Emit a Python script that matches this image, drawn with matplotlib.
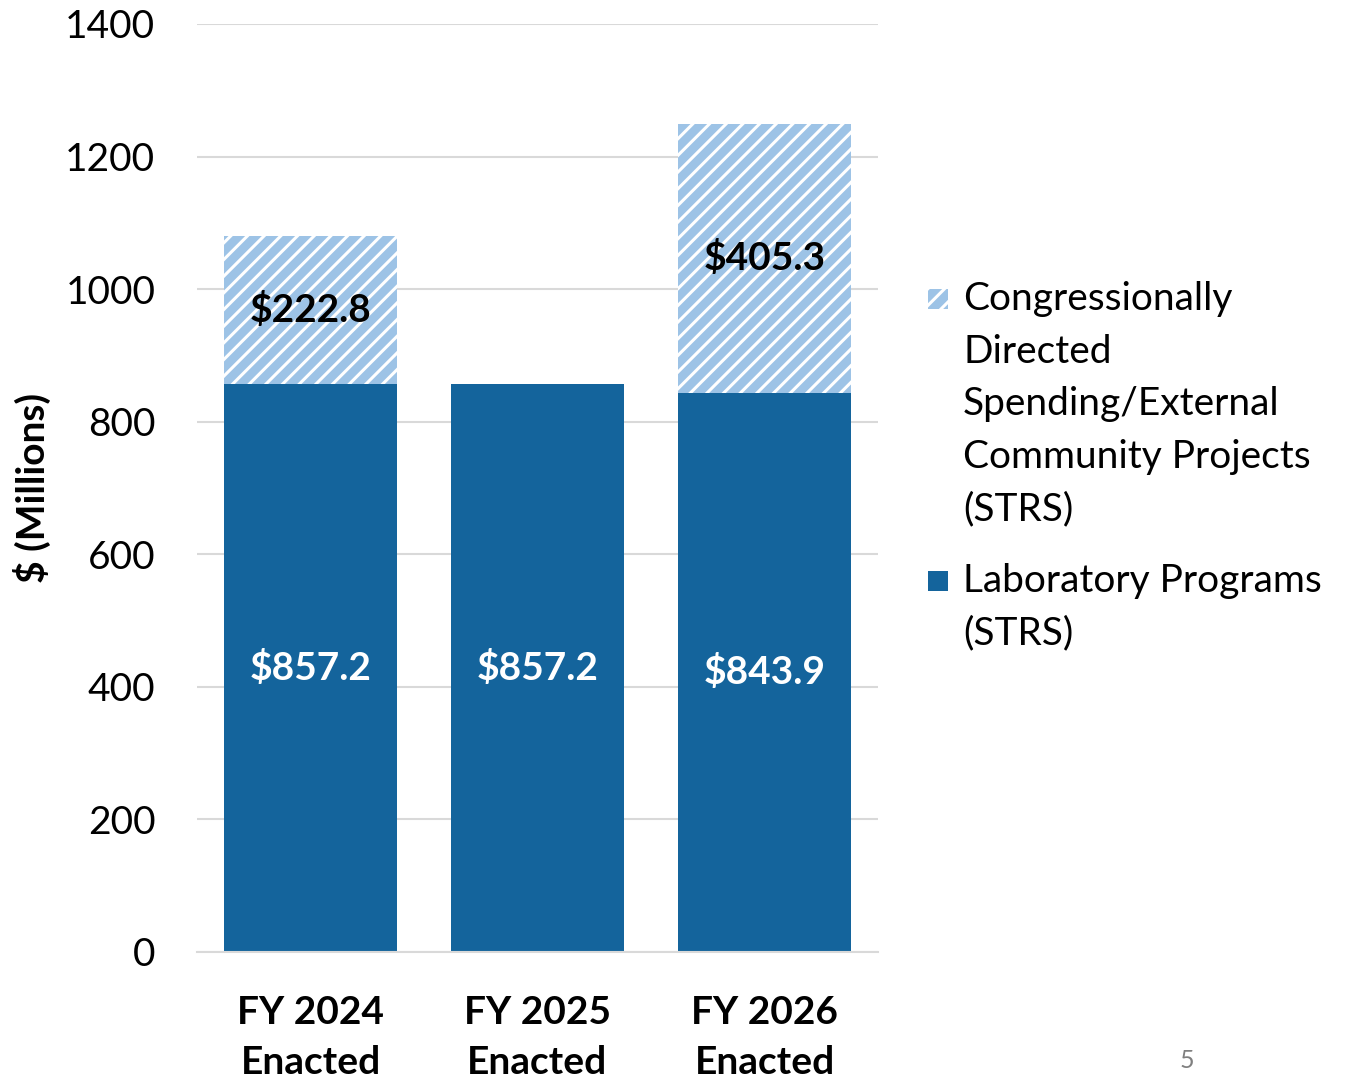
import numpy as np
import matplotlib
matplotlib.use("Agg")
import matplotlib.pyplot as plt
from matplotlib.patches import Rectangle

categories = ["FY 2024\nEnacted", "FY 2025\nEnacted", "FY 2026\nEnacted"]
lab_programs = [857.2, 857.2, 843.9]
cds_projects = [222.8, 0.0, 405.3]
yticks = [0, 200, 400, 600, 800, 1000, 1200, 1400]

DARK = "#14649C"
LIGHT = "#9DC3E6"
GRID = "#D9D9D9"
FS = 28

plt.rcParams["font.family"] = ["Lato", "DejaVu Sans"]
plt.rcParams["hatch.linewidth"] = 2.2

fig = plt.figure(figsize=(13.57, 10.79), dpi=100)
ax = fig.add_axes([197 / 1357, 127 / 1079, 681 / 1357, 928 / 1079])

x = np.arange(len(categories))
ax.bar(x, lab_programs, width=0.76, color=DARK, zorder=2)
ax.bar(x, cds_projects, width=0.76, bottom=lab_programs, facecolor=LIGHT,
       edgecolor="white", hatch="//", linewidth=0, zorder=2)

for i in range(len(categories)):
    ax.text(x[i], lab_programs[i] / 2, f"${lab_programs[i]:.1f}", ha="center", va="center",
            color="white", fontsize=FS, fontweight="bold", zorder=3)
    if cds_projects[i] > 0:
        ax.text(x[i], lab_programs[i] + cds_projects[i] / 2, f"${cds_projects[i]:.1f}",
                ha="center", va="center", color="black", fontsize=FS, fontweight="bold", zorder=3)

ax.set_xlim(-0.5, 2.5)
ax.set_ylim(0, 1400)
ax.set_yticks(yticks)
ax.set_yticklabels([str(v) for v in yticks], fontsize=FS)
ax.set_xticks(x)
ax.set_xticklabels(categories, fontsize=FS, fontweight="bold", linespacing=1.5)
ax.tick_params(length=0)
ax.tick_params(axis="x", pad=31)
ax.tick_params(axis="y", pad=30)
ax.grid(axis="y", color=GRID, linewidth=1.5, zorder=0)
for s in ["top", "right", "left"]:
    ax.spines[s].set_visible(False)
ax.spines["bottom"].set_color(GRID)
ax.spines["bottom"].set_linewidth(1.5)
ax.set_ylabel("$ (Millions)", fontsize=FS, fontweight="bold", labelpad=10)

# legend drawn by hand so the swatch sits on the first line
fig.add_artist(Rectangle((928 / 1357, 1 - 309 / 1079), 20 / 1357, 20 / 1079,
                         transform=fig.transFigure, facecolor=LIGHT,
                         edgecolor="white", hatch="//", linewidth=0))
fig.add_artist(Rectangle((928 / 1357, 1 - 591 / 1079), 20 / 1357, 20 / 1079,
                         transform=fig.transFigure, facecolor=DARK, linewidth=0))
fig.text(963 / 1357, 1 - 281 / 1079,
         "Congressionally\nDirected\nSpending/External\nCommunity Projects\n(STRS)",
         fontsize=FS, va="top", ha="left", linespacing=1.57)
fig.text(963 / 1357, 1 - 563 / 1079, "Laboratory Programs\n(STRS)", fontsize=FS,
         va="top", ha="left", linespacing=1.57)

fig.text(1187 / 1357, 1 - 1060 / 1079, "5", fontsize=18, color="#808080",
         ha="center", va="center")

fig.savefig("out.png", dpi=100)
